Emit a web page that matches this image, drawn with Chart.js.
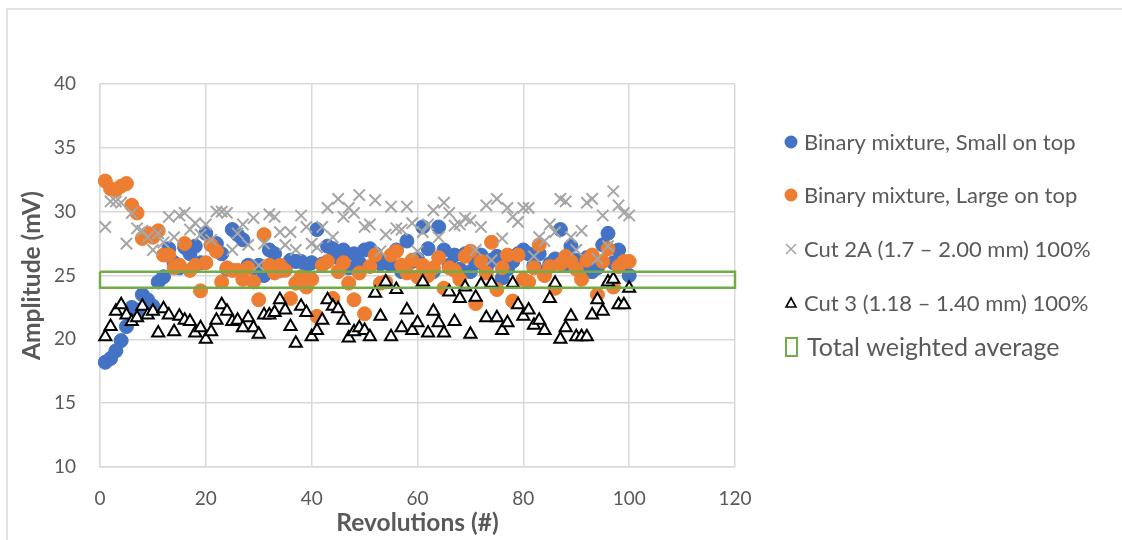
<!DOCTYPE html>
<html>
<head>
<meta charset="utf-8">
<script src="https://cdn.jsdelivr.net/npm/chart.js@4.4.0/dist/chart.umd.min.js"></script>
<style>
  html, body { margin: 0; padding: 0; background: #ffffff; }
  #wrap { width: 1122px; height: 540px; position: relative; }
</style>
</head>
<body>
<div id="wrap"><canvas id="chart"></canvas></div>
<script>
// Revolution number of each measurement
const revolutions = Array.from({ length: 100 }, (_, i) => i + 1);

// Amplitude (mV) per revolution
const smallOnTop = [
  18.2, 18.5, 19.1, 19.9, 21.0, 22.5, 22.3, 23.5, 23.1, 22.6,
  24.5, 24.9, 27.1, 26.0, 25.6, 27.2, 26.7, 27.3, 26.0, 28.3,
  27.4, 27.5, 26.7, 25.5, 28.6, 28.2, 27.8, 25.8, 25.6, 25.8,
  25.0, 27.0, 26.7, 25.4, 25.6, 26.2, 26.1, 26.1, 25.8, 26.0,
  28.6, 25.9, 27.3, 27.1, 26.4, 27.0, 25.6, 26.7, 26.0, 27.0,
  27.1, 26.7, 25.9, 26.2, 25.8, 27.0, 25.3, 27.7, 26.1, 26.3,
  28.8, 27.1, 25.3, 28.8, 27.0, 25.8, 26.6, 25.5, 26.7, 25.3,
  26.0, 26.6, 25.6, 26.2, 26.5, 24.8, 25.5, 26.1, 26.7, 27.0,
  26.7, 25.8, 26.7, 25.3, 25.9, 26.3, 28.6, 25.9, 27.3, 26.2,
  25.8, 26.4, 25.3, 25.6, 27.4, 28.3, 26.0, 27.0, 25.8, 25.0
];
const largeOnTop = [
  32.4, 31.8, 31.7, 32.0, 32.2, 30.5, 29.9, 27.9, 28.3, 28.0,
  28.5, 26.6, 26.6, 25.6, 25.8, 27.5, 25.4, 25.8, 23.8, 26.0,
  27.4, 26.9, 24.5, 25.6, 25.4, 25.4, 24.7, 25.6, 24.5, 23.1,
  28.2, 25.8, 25.2, 25.8, 25.4, 23.2, 24.4, 24.9, 24.1, 24.7,
  21.8, 25.8, 26.1, 23.2, 25.3, 26.0, 24.4, 23.1, 25.2, 22.0,
  25.7, 26.6, 24.4, 24.5, 26.6, 26.9, 25.8, 25.2, 26.2, 24.9,
  25.8, 25.0, 25.6, 26.4, 24.0, 25.6, 25.4, 24.7, 26.5, 26.9,
  22.8, 26.1, 25.2, 27.6, 23.9, 25.6, 26.6, 23.0, 26.6, 24.7,
  24.5, 25.6, 27.4, 25.0, 25.7, 24.0, 25.9, 26.5, 26.1, 25.5,
  24.7, 26.2, 26.6, 23.5, 26.1, 27.1, 24.1, 25.7, 26.1, 26.1
];
const cut2A = [
  28.8, 30.8, 30.8, 30.7, 27.5, 29.9, 28.7, 28.5, 28.0, 27.0,
  28.3, 27.6, 29.6, 28.0, 29.7, 29.9, 28.6, 29.1, 28.2, 29.0,
  27.8, 30.0, 30.0, 29.9, 27.0, 28.3, 29.0, 27.4, 29.5, 25.8,
  27.5, 29.8, 29.6, 28.4, 27.4, 28.4, 27.0, 29.7, 28.8, 27.5,
  27.2, 28.8, 30.3, 28.0, 31.0, 29.6, 30.3, 29.9, 31.3, 28.8,
  29.0, 30.9, 26.9, 28.2, 30.4, 28.7, 28.6, 30.4, 29.1, 26.9,
  28.4, 29.0, 30.1, 28.0, 30.7, 29.9, 28.9, 29.0, 29.5, 29.3,
  27.0, 28.8, 30.5, 26.2, 31.0, 27.9, 30.3, 29.6, 29.2, 30.3,
  30.3, 26.5, 28.0, 27.7, 29.0, 28.4, 31.0, 30.8, 28.0, 27.0,
  28.5, 30.7, 31.0, 26.3, 29.7, 27.3, 31.6, 30.5, 29.9, 29.7
];
const cut3 = [
  20.2, 21.0, 22.2, 22.7, 21.9, 21.4, 21.7, 22.6, 21.9, 22.2,
  20.5, 22.4, 21.9, 20.6, 21.8, 21.5, 21.4, 20.5, 20.9, 20.0,
  20.6, 21.5, 22.7, 22.2, 21.4, 21.5, 20.9, 21.7, 20.9, 20.4,
  21.9, 21.9, 22.1, 23.1, 22.3, 21.0, 19.7, 22.6, 22.1, 20.2,
  20.7, 21.5, 23.1, 22.6, 22.4, 21.5, 20.1, 20.6, 20.9, 20.7,
  20.2, 23.6, 21.8, 24.5, 20.2, 23.9, 20.9, 22.3, 20.7, 21.3,
  24.5, 20.5, 22.2, 21.3, 20.5, 23.7, 21.4, 23.2, 24.1, 20.4,
  23.3, 24.3, 21.7, 24.4, 21.7, 20.7, 21.3, 24.4, 22.7, 21.8,
  22.3, 21.1, 21.5, 20.7, 23.2, 24.4, 20.0, 20.9, 21.8, 20.2,
  20.2, 20.2, 21.9, 23.1, 22.2, 24.5, 24.7, 22.7, 22.7, 24.0
];

// Total weighted average band: [lower, upper] amplitude (mV)
const weightedAverageBand = [24.05, 25.3];

// Axis ranges and tick steps
const xRange = [0, 120];
const yRange = [10, 40];
const xStep = 20;
const yStep = 5;

const seriesLabels = [
  'Binary mixture, Small on top',
  'Binary mixture, Large on top',
  'Cut 2A (1.7 \u2013 2.00 mm) 100%',
  'Cut 3 (1.18 \u2013 1.40 mm) 100%',
  'Total weighted average'
];

const toPoints = (values) => values.map((v, i) => ({ x: revolutions[i], y: v }));

const bandOutline = [
  { x: xRange[0], y: weightedAverageBand[1] },
  { x: xRange[1], y: weightedAverageBand[1] },
  { x: xRange[1], y: weightedAverageBand[0] },
  { x: xRange[0], y: weightedAverageBand[0] },
  { x: xRange[0], y: weightedAverageBand[1] }
];

const TEXT = '#595959';
const GRID = '#d9d9d9';

// Thin frame around the whole chart
const chartFrame = {
  id: 'chartFrame',
  beforeDraw(chart) {
    const ctx = chart.ctx;
    ctx.save();
    ctx.fillStyle = '#ffffff';
    ctx.fillRect(0, 0, chart.width, chart.height);
    ctx.strokeStyle = GRID;
    ctx.lineWidth = 1.5;
    ctx.strokeRect(7, 9, chart.width + 20, chart.height + 20);
    ctx.restore();
  }
};

// Legend drawn to the right of the plot
const sideLegend = {
  id: 'sideLegend',
  afterDraw(chart, args, opts) {
    const ctx = chart.ctx;
    chart.data.datasets.forEach((ds, i) => {
      const y = opts.rows[i];
      const mx = opts.markerX;
      ctx.save();
      if (ds.showLine) {
        ctx.strokeStyle = ds.borderColor;
        ctx.lineWidth = 2;
        ctx.strokeRect(mx - 5, y - 9, 11, 18);
      } else if (ds.pointStyle === 'circle') {
        ctx.fillStyle = ds.backgroundColor;
        ctx.beginPath();
        ctx.arc(mx, y, 6.5, 0, Math.PI * 2);
        ctx.fill();
      } else if (ds.pointStyle === 'crossRot') {
        ctx.strokeStyle = ds.borderColor;
        ctx.lineWidth = 1.5;
        ctx.beginPath();
        ctx.moveTo(mx - 5, y - 5); ctx.lineTo(mx + 5, y + 5);
        ctx.moveTo(mx + 5, y - 5); ctx.lineTo(mx - 5, y + 5);
        ctx.stroke();
      } else if (ds.pointStyle === 'triangle') {
        ctx.fillStyle = '#ffffff';
        ctx.strokeStyle = ds.borderColor;
        ctx.lineWidth = 1.6;
        ctx.beginPath();
        ctx.moveTo(mx, y - 5);
        ctx.lineTo(mx + 5, y + 4);
        ctx.lineTo(mx - 5, y + 4);
        ctx.closePath();
        ctx.fill();
        ctx.stroke();
      }
      const big = ds.showLine;
      ctx.fillStyle = TEXT;
      ctx.textBaseline = 'middle';
      ctx.textAlign = 'left';
      ctx.font = (big ? opts.bigSize : opts.size) + 'px Lato';
      ctx.fillText(ds.label, big ? opts.textX + 3 : opts.textX, y + 1);
      ctx.restore();
    });
  }
};

new Chart(document.getElementById('chart'), {
  type: 'scatter',
  data: {
    datasets: [
      {
        label: seriesLabels[0],
        data: toPoints(smallOnTop),
        pointStyle: 'circle',
        pointRadius: 7,
        pointHoverRadius: 7,
        borderWidth: 1,
        backgroundColor: '#4472C4',
        borderColor: '#4472C4',
        order: 5,
        clip: false
      },
      {
        label: seriesLabels[1],
        data: toPoints(largeOnTop),
        pointStyle: 'circle',
        pointRadius: 7,
        pointHoverRadius: 7,
        borderWidth: 1,
        backgroundColor: '#ED7D31',
        borderColor: '#ED7D31',
        order: 4,
        clip: false
      },
      {
        label: seriesLabels[2],
        data: toPoints(cut2A),
        pointStyle: 'crossRot',
        pointRadius: 8,
        pointHoverRadius: 8,
        borderWidth: 2,
        backgroundColor: '#A5A5A5',
        borderColor: '#A5A5A5',
        order: 3,
        clip: false
      },
      {
        label: seriesLabels[3],
        data: toPoints(cut3),
        pointStyle: 'triangle',
        pointRadius: 7,
        pointHoverRadius: 7,
        borderWidth: 2,
        backgroundColor: '#ffffff',
        borderColor: '#000000',
        order: 2,
        clip: false
      },
      {
        label: seriesLabels[4],
        data: bandOutline,
        showLine: true,
        pointRadius: 0,
        pointHoverRadius: 0,
        borderWidth: 2.5,
        borderColor: '#70AD47',
        backgroundColor: 'transparent',
        fill: false,
        order: 1,
        clip: false
      }
    ]
  },
  options: {
    responsive: true,
    maintainAspectRatio: false,
    animation: false,
    events: [],
    layout: { padding: { left: 0, top: 84, right: 387, bottom: 0 } },
    plugins: {
      legend: { display: false },
      tooltip: { enabled: false },
      sideLegend: { markerX: 791, textX: 804, rows: [142, 195, 249, 303, 347], size: 22, bigSize: 25 }
    },
    scales: {
      x: {
        type: 'linear',
        min: xRange[0],
        max: xRange[1],
        afterFit(scale) { scale.height = 73; },
        ticks: { stepSize: xStep, color: TEXT, font: { family: 'Lato', size: 19 }, padding: 20, maxRotation: 0 },
        grid: { color: GRID, lineWidth: 1.5, drawTicks: false },
        border: { color: GRID, width: 1.5 },
        title: {
          display: true,
          text: 'Revolutions (#)',
          color: TEXT,
          font: { family: 'Lato', size: 24.5, weight: 'bold' },
          padding: { top: 0, bottom: 2 }
        }
      },
      y: {
        type: 'linear',
        min: yRange[0],
        max: yRange[1],
        afterFit(scale) { scale.width = 100; },
        ticks: { stepSize: yStep, color: TEXT, font: { family: 'Lato', size: 19 }, padding: 24 },
        grid: { color: GRID, lineWidth: 1.5, drawTicks: false },
        border: { color: GRID, width: 1.5 },
        title: {
          display: true,
          text: 'Amplitude (mV)',
          color: TEXT,
          font: { family: 'Lato', size: 24.5, weight: 'bold' },
          padding: { top: 17, bottom: 0 }
        }
      }
    }
  },
  plugins: [chartFrame, sideLegend]
});
</script>
</body>
</html>
